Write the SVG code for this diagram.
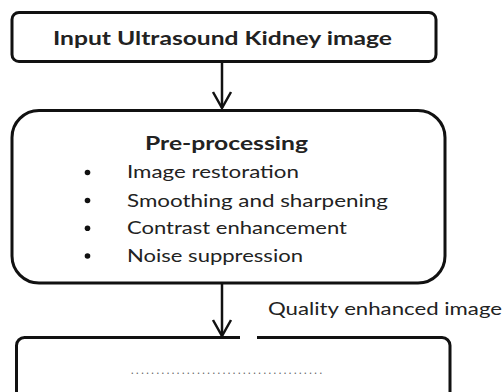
<svg xmlns="http://www.w3.org/2000/svg" width="504" height="392" viewBox="0 0 504 392">
  <style>
    .box { fill: #ffffff; stroke: #111111; stroke-width: 3; }
    .edge { fill: none; stroke: #111111; stroke-width: 2.5; }
    .txt { font-family: Lato, "Open Sans", "Liberation Sans", sans-serif; fill: #222222; }
    .title { font-size: 18px; font-weight: bold; }
    .item { font-size: 17.5px; }
    .label { font-size: 17.5px; }
    .dots { font-family: Lato, "Liberation Sans", sans-serif; font-size: 11px; fill: #666666; }
  </style>
  <defs>
    <marker id="openArrow" markerUnits="userSpaceOnUse" markerWidth="24" markerHeight="24" viewBox="-18 -12 20 24" refX="0" refY="0" orient="auto">
      <path d="M-16,-9 L0,0 L-16,9" fill="none" stroke="#111111" stroke-width="2.5" stroke-linejoin="miter"/>
    </marker>
  </defs>
  <rect width="504" height="392" fill="#ffffff"/>

  <!-- connectors -->
  <g id="connectors">
    <line class="edge" x1="222" y1="62" x2="222" y2="108" marker-end="url(#openArrow)"/>
    <line class="edge" x1="222" y1="284" x2="222" y2="336" marker-end="url(#openArrow)"/>
    <text class="txt label" x="268" y="315" textLength="234" lengthAdjust="spacingAndGlyphs">Quality enhanced image</text>
  </g>

  <!-- input node -->
  <g id="input">
    <rect class="box" x="12" y="12.5" width="424" height="49" rx="7"/>
    <text class="txt title" x="53" y="45" textLength="339" lengthAdjust="spacingAndGlyphs">Input Ultrasound Kidney image</text>
  </g>

  <!-- pre-processing node -->
  <g id="preprocessing">
    <rect class="box" x="12" y="110.5" width="433" height="172.5" rx="27"/>
    <text class="txt title" x="145" y="150" textLength="163" lengthAdjust="spacingAndGlyphs">Pre-processing</text>
    <g fill="#111111">
      <circle cx="87.5" cy="172.5" r="2.8"/>
      <circle cx="87.5" cy="200.5" r="2.8"/>
      <circle cx="87.5" cy="228.3" r="2.8"/>
      <circle cx="87.5" cy="256" r="2.8"/>
    </g>
    <text class="txt item" x="127" y="178.3" textLength="172" lengthAdjust="spacingAndGlyphs">Image restoration</text>
    <text class="txt item" x="127" y="206.7" textLength="261" lengthAdjust="spacingAndGlyphs">Smoothing and sharpening</text>
    <text class="txt item" x="127" y="234" textLength="220" lengthAdjust="spacingAndGlyphs">Contrast enhancement</text>
    <text class="txt item" x="127" y="261.7" textLength="176" lengthAdjust="spacingAndGlyphs">Noise suppression</text>
  </g>

  <!-- next stage node -->
  <g id="next-stage">
    <rect class="box" x="16.5" y="337.5" width="433.5" height="72" rx="8"/>
    <rect x="240" y="335" width="17" height="5" fill="#ffffff"/>
    <text class="dots" x="131" y="374" textLength="191" lengthAdjust="spacing">......................................</text>
  </g>
</svg>
